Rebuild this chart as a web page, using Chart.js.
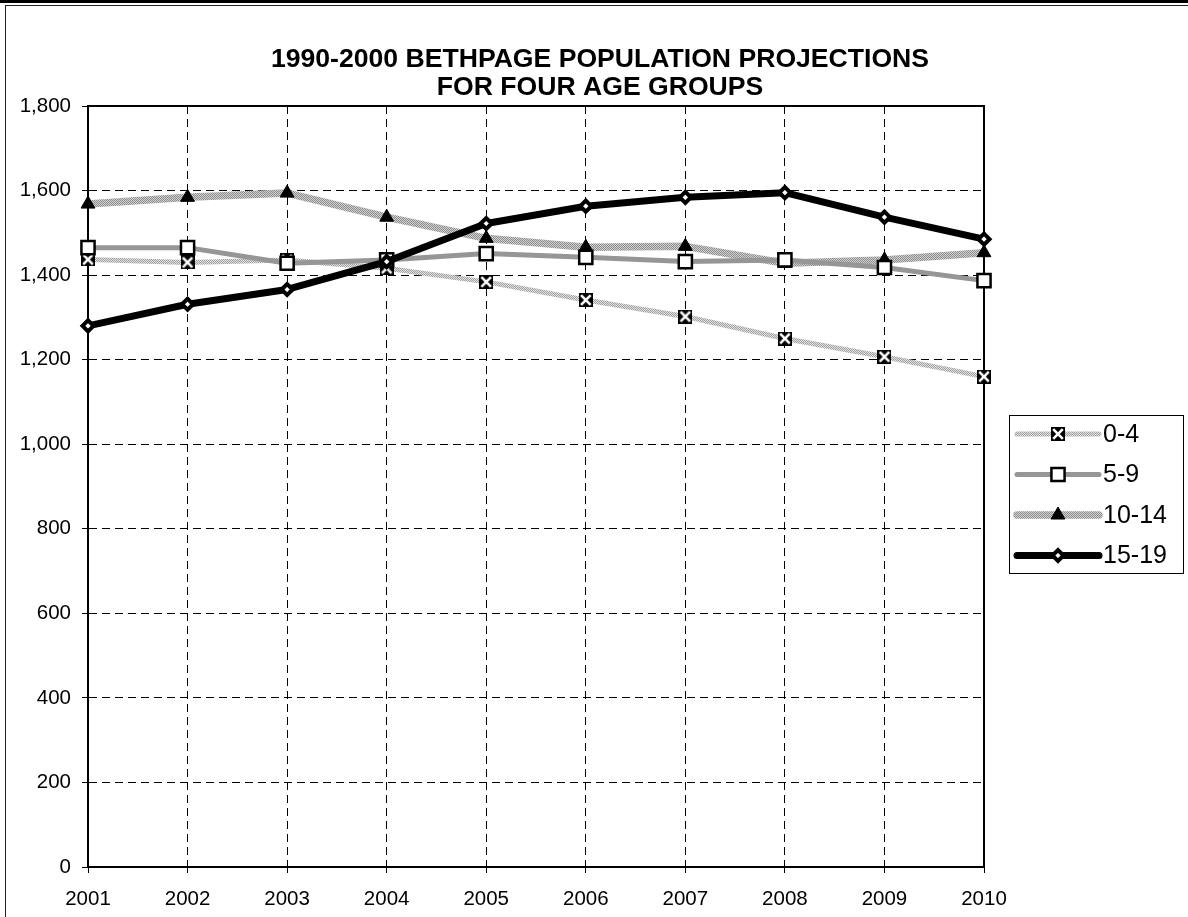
<!DOCTYPE html>
<html><head><meta charset="utf-8">
<script src="https://cdn.jsdelivr.net/npm/chart.js@4/dist/chart.umd.min.js"></script>
<style>
html,body{margin:0;padding:0;background:#fff;}
#wrap{position:relative;width:1188px;height:917px;overflow:hidden;background:#fff;}
#topbar{position:absolute;left:0;top:0;width:1188px;height:3px;background:#000;}
#frame{position:absolute;left:5px;top:5px;width:1300px;height:1000px;border-top:1px solid #222;border-left:1px solid #222;}
canvas{position:absolute;left:0;top:0;}
</style></head><body>
<div id="wrap"><div id="topbar"></div><div id="frame"></div><canvas id="c" width="1188" height="917"></canvas></div>
<script>
const years = ['2001','2002','2003','2004','2005','2006','2007','2008','2009','2010'];
const age0to4   = [1437, 1430, 1436, 1416, 1384, 1341, 1302, 1250, 1207, 1160];
const age5to9   = [1465, 1465, 1428, 1436, 1451, 1442, 1432, 1436, 1418, 1387];
const age10to14 = [1568, 1584, 1594, 1537, 1487, 1466, 1468, 1428, 1436, 1453];
const age15to19 = [1280, 1331, 1366, 1432, 1522, 1563, 1584, 1595, 1537, 1485];
const seriesNames = ['0-4', '5-9', '10-14', '15-19'];
const titleLines = ['1990-2000 BETHPAGE POPULATION PROJECTIONS', 'FOR FOUR AGE GROUPS'];
const yMin = 0, yMax = 1800, yStep = 200;

const FONT = "Arial, 'Liberation Sans', sans-serif";
const ctx = document.getElementById('c').getContext('2d');

function hatch(dark, light) {
  const p = document.createElement('canvas'); p.width = 2; p.height = 2;
  const c = p.getContext('2d');
  c.fillStyle = light; c.fillRect(0, 0, 2, 2);
  c.fillStyle = dark; c.fillRect(0, 0, 1, 1); c.fillRect(1, 1, 1, 1);
  return ctx.createPattern(p, 'repeat');
}
function xMarker() {
  const s = 14, p = document.createElement('canvas'); p.width = s; p.height = s;
  const c = p.getContext('2d');
  c.fillStyle = '#000'; c.fillRect(0, 0, s, s);
  c.strokeStyle = '#fff'; c.lineWidth = 2.6;
  c.beginPath(); c.moveTo(2.2, 2.2); c.lineTo(s - 2.2, s - 2.2);
  c.moveTo(s - 2.2, 2.2); c.lineTo(2.2, s - 2.2); c.stroke();
  return p;
}

const hatchA = hatch('#a0a0a0', '#e2e2e2');
const hatchB = hatch('#8c8c8c', '#d2d2d2');

const datasets = [
  { label: seriesNames[3], data: age15to19, borderColor: '#000', borderWidth: 7,
    pointStyle: 'rectRot', pointRadius: 5.5, pointBackgroundColor: '#fff', pointBorderColor: '#000', pointBorderWidth: 4, order: 0 },
  { label: seriesNames[1], data: age5to9, borderColor: '#969696', borderWidth: 5,
    pointStyle: 'rect', pointRadius: 9.3, pointBackgroundColor: '#fff', pointBorderColor: '#000', pointBorderWidth: 2.5, order: 1 },
  { label: seriesNames[2], data: age10to14, borderColor: hatchB, borderWidth: 7.5,
    pointStyle: 'triangle', pointRadius: 8, pointBackgroundColor: '#000', pointBorderColor: '#000', pointBorderWidth: 1, order: 2 },
  { label: seriesNames[0], data: age0to4, borderColor: hatchA, borderWidth: 5,
    pointStyle: xMarker(), pointRadius: 7, pointBackgroundColor: '#000', pointBorderColor: '#000', pointBorderWidth: 0, order: 3 }
];
datasets.forEach(d => { d.tension = 0; d.fill = false; d.borderCapStyle = 'round'; d.borderJoinStyle = 'round'; d.pointHoverRadius = d.pointRadius; });

const frameBox = {
  id: 'frameBox',
  beforeDatasetsDraw(chart) {
    const a = chart.chartArea, c = chart.ctx;
    c.save(); c.strokeStyle = '#000'; c.lineWidth = 2;
    c.strokeRect(a.left, a.top, a.right - a.left, a.bottom - a.top);
    c.restore();
  }
};

const titleText = {
  id: 'titleText',
  afterDraw(chart) {
    const c = chart.ctx;
    c.save();
    c.fillStyle = '#000'; c.font = 'bold 26.6px ' + FONT; c.textAlign = 'center'; c.textBaseline = 'middle';
    titleLines.forEach((t, i) => c.fillText(t, 600, 60 + i * 28));
    c.restore();
  }
};

const legendBox = {
  id: 'legendBox',
  afterDraw(chart) {
    const c = chart.ctx;
    const bx = 1009, by = 415, bw = 174, bh = 158;
    c.save();
    c.fillStyle = '#fff'; c.fillRect(bx, by, bw, bh);
    c.strokeStyle = '#000'; c.lineWidth = 1; c.strokeRect(bx + 0.5, by + 0.5, bw, bh);
    const order = [3, 1, 2, 0];
    order.forEach((di, i) => {
      const ds = chart.data.datasets[di];
      const y = by + 19 + i * 40.5;
      c.save();
      c.strokeStyle = ds.borderColor; c.lineWidth = ds.borderWidth; c.lineCap = 'round';
      c.beginPath(); c.moveTo(1017, y); c.lineTo(1099, y); c.stroke();
      c.restore();
      const ps = ds.pointStyle;
      if (ps instanceof HTMLCanvasElement) {
        c.drawImage(ps, 1058 - ps.width / 2, y - ps.height / 2);
      } else if (Chart.helpers && Chart.helpers.drawPoint) {
        c.save();
        c.fillStyle = ds.pointBackgroundColor; c.strokeStyle = ds.pointBorderColor; c.lineWidth = ds.pointBorderWidth;
        Chart.helpers.drawPoint(c, { pointStyle: ps, radius: ds.pointRadius, borderWidth: ds.pointBorderWidth, rotation: 0 }, 1058, y);
        c.restore();
      }
      c.fillStyle = '#000'; c.font = '25px ' + FONT; c.textAlign = 'left'; c.textBaseline = 'middle';
      c.fillText(ds.label, 1103, y + 1);
    });
    c.restore();
  }
};

new Chart(ctx, {
  type: 'line',
  data: { labels: years, datasets },
  options: {
    responsive: false, animation: false, devicePixelRatio: 1,
    layout: { padding: { left: 12, right: 204, top: 106, bottom: 0 } },
    plugins: {
      legend: { display: false }, tooltip: { enabled: false }, title: { display: false }
    },
    scales: {
      x: {
        afterFit(s) { s.height = 50; },
        grid: { color: '#000', lineWidth: 1, tickLength: 6, tickColor: '#000', tickBorderDash: [] },
        border: { display: true, color: '#000', width: 2, dash: [8, 5] },
        ticks: { color: '#000', font: { family: FONT, size: 20.5 }, padding: 14, maxRotation: 0, autoSkip: false }
      },
      y: {
        min: yMin, max: yMax,
        afterFit(s) { s.width = 76; },
        grid: { color: '#000', lineWidth: 1, tickLength: 6, tickColor: '#000', tickBorderDash: [] },
        border: { display: true, color: '#000', width: 2, dash: [8, 5] },
        ticks: { stepSize: yStep, color: '#000', font: { family: FONT, size: 20.5 }, padding: 11 }
      }
    }
  },
  plugins: [frameBox, titleText, legendBox]
});
</script>
</body></html>
